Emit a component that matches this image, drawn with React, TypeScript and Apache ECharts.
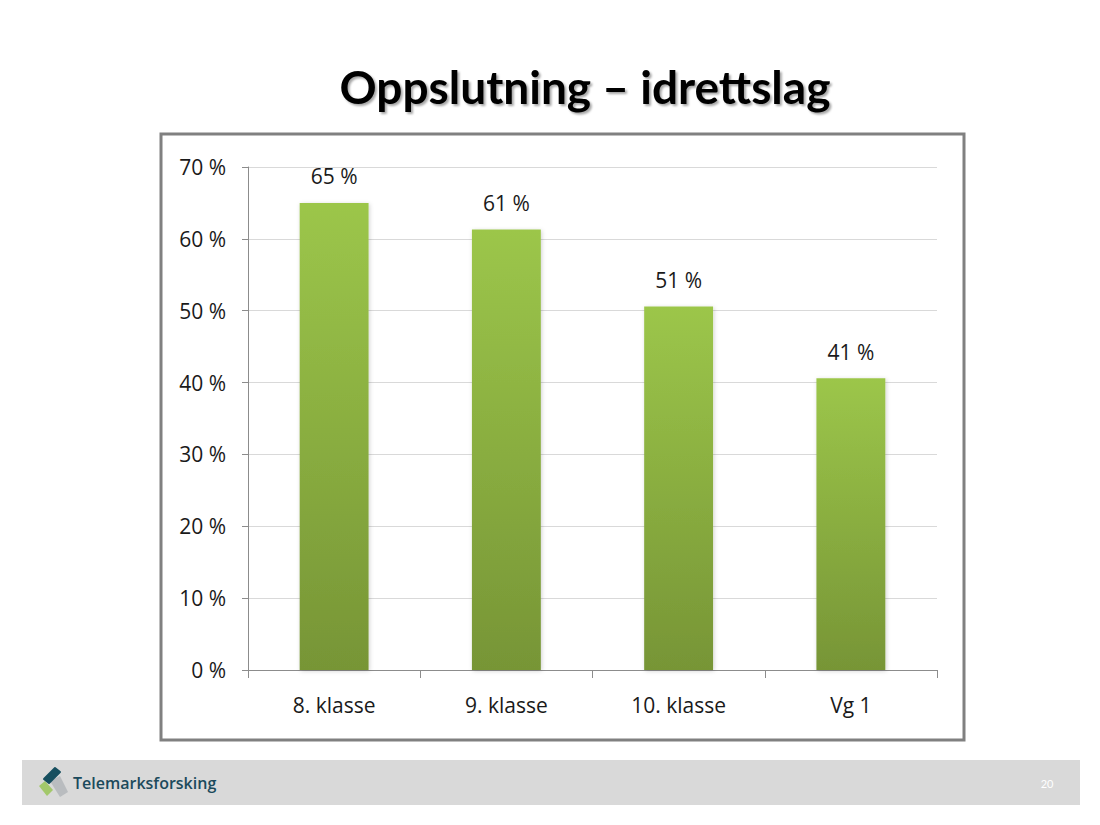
import React, { useEffect, useRef } from "react";
import * as echarts from "echarts";

const categories = ["8. klasse", "9. klasse", "10. klasse", "Vg 1"];
const values = [65.0, 61.3, 50.6, 40.6];
const yTicks = [0, 10, 20, 30, 40, 50, 60, 70];
const titleText = "Oppslutning – idrettslag";
const footerText = "Telemarksforsking";
const pageNumber = "20";

export default function App() {
  const ref = useRef<HTMLDivElement>(null);
  useEffect(() => {
    if (!ref.current) return;
    const chart = echarts.init(ref.current, null, { renderer: "svg" });
    const font = "Lato, 'Open Sans', sans-serif";
    const labelFont = "'Open Sans', Lato, sans-serif";
    chart.setOption({
      animation: false,
      backgroundColor: "#ffffff",
      grid: { left: 248, top: 167, right: 163, bottom: 155 },
      xAxis: {
        type: "category",
        data: categories,
        axisLine: { lineStyle: { color: "#8c8c8c", width: 1 } },
        axisTick: { show: true, length: 8, lineStyle: { color: "#8c8c8c" } },
        axisLabel: { color: "#1a1a1a", fontSize: 21, fontFamily: labelFont, margin: 24 },
      },
      yAxis: {
        type: "value",
        min: yTicks[0],
        max: yTicks[yTicks.length - 1],
        interval: 10,
        axisLine: { show: true, lineStyle: { color: "#8c8c8c", width: 1 } },
        axisTick: { show: true, length: 6, lineStyle: { color: "#8c8c8c" } },
        axisLabel: {
          color: "#1a1a1a",
          fontSize: 21,
          fontFamily: labelFont,
          margin: 22,
          formatter: (v: number) => `${v} %`,
        },
        splitLine: { lineStyle: { color: "#d9d9d9", width: 1 } },
      },
      series: [
        {
          type: "bar",
          data: values,
          barWidth: "40%",
          itemStyle: {
            color: new echarts.graphic.LinearGradient(0, 0, 0, 1, [
              { offset: 0, color: "#9cc64a" },
              { offset: 1, color: "#779536" },
            ]),
            shadowColor: "rgba(0,0,0,0.18)",
            shadowBlur: 4,
            shadowOffsetX: 1,
            shadowOffsetY: 1,
          },
          label: {
            show: true,
            position: "top",
            distance: 16,
            fontSize: 21,
            fontFamily: labelFont,
            color: "#1a1a1a",
            formatter: (p: any) => `${Math.round(p.value)} %`,
          },
        },
      ],
      graphic: [
        {
          type: "rect",
          shape: { x: 161, y: 134, width: 803, height: 606 },
          style: { fill: "none", stroke: "#808080", lineWidth: 3 },
          z: 10,
        },
        {
          type: "text",
          x: 585,
          y: 86,
          style: {
            text: titleText,
            fontSize: 46,
            fontWeight: "bold",
            fontFamily: font,
            fill: "#000000",
            align: "center",
            verticalAlign: "middle",
            textShadowColor: "rgba(0,0,0,0.35)",
            textShadowBlur: 2,
            textShadowOffsetX: 2,
            textShadowOffsetY: 2,
          },
        },
        {
          type: "rect",
          shape: { x: 22, y: 760, width: 1058, height: 45 },
          style: { fill: "#d9d9d9" },
        },
        {
          type: "polygon",
          shape: { points: [[50, 781], [60, 797], [68, 792], [60, 776]] },
          style: { fill: "#b0b4b8", opacity: 0.8 },
        },
        {
          type: "polygon",
          shape: { points: [[39, 786], [45, 781], [53, 790], [47, 796]] },
          style: { fill: "#a3c86b" },
        },
        {
          type: "polygon",
          shape: { points: [[44, 779], [55, 768], [60, 772], [49, 783]] },
          style: { fill: "#174f5f", lineJoin: "round", stroke: "#174f5f", lineWidth: 2 },
        },
        {
          type: "text",
          x: 73,
          y: 783,
          style: {
            text: footerText,
            fontSize: 16,
            fontWeight: 600,
            fontFamily: "'Open Sans', Lato, sans-serif",
            fill: "#1b4a5c",
            verticalAlign: "middle",
          },
        },
        {
          type: "text",
          x: 1047,
          y: 783,
          style: {
            text: pageNumber,
            fontSize: 11,
            fontFamily: font,
            fill: "#ffffff",
            align: "center",
            verticalAlign: "middle",
          },
        },
      ],
    });
    return () => chart.dispose();
  }, []);
  return (
    <div
      ref={ref}
      style={{ position: "fixed", left: 0, top: 0, width: 1100, height: 825 }}
    />
  );
}
